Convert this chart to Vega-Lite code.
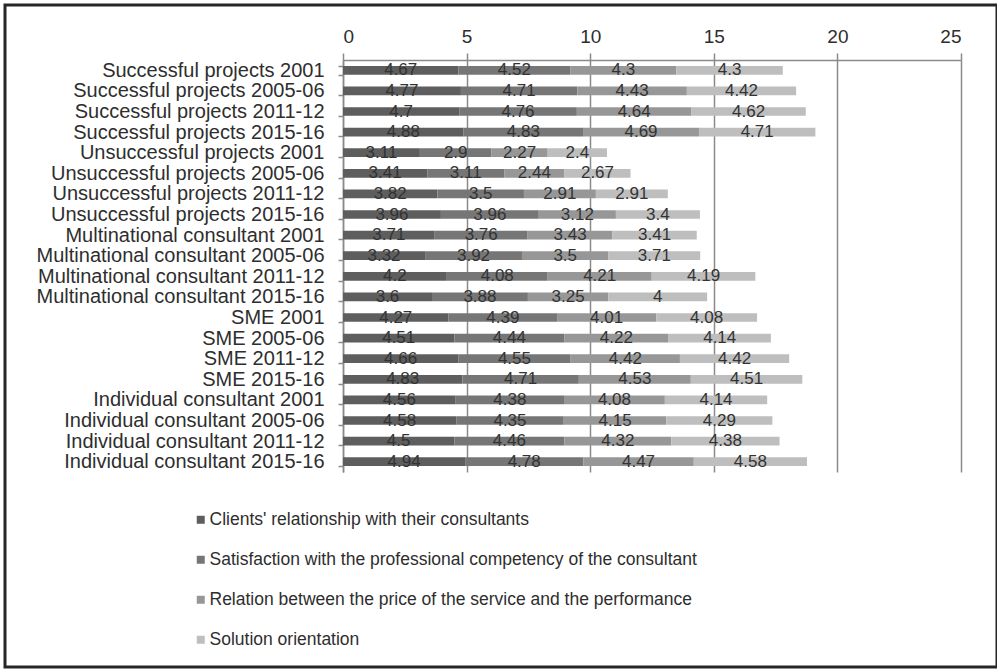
{
  "$schema": "https://vega.github.io/schema/vega-lite/v6.json",
  "width": 992,
  "height": 662,
  "autosize": {"type": "none"},
  "padding": {"left": 5, "top": 5, "right": 0, "bottom": 2},
  "background": "white",
  "config": {
    "view": {"stroke": "#262626", "strokeWidth": 3},
    "font": "Liberation Sans"
  },
  "data": {
    "values": [
      {"cat": "Successful projects 2001", "k": 1, "series": "Clients' relationship with their consultants", "v": 4.67},
      {"cat": "Successful projects 2001", "k": 2, "series": "Satisfaction with the professional competency of the consultant", "v": 4.52},
      {"cat": "Successful projects 2001", "k": 3, "series": "Relation between the price of the service and the performance", "v": 4.3},
      {"cat": "Successful projects 2001", "k": 4, "series": "Solution orientation", "v": 4.3},
      {"cat": "Successful projects 2005-06", "k": 1, "series": "Clients' relationship with their consultants", "v": 4.77},
      {"cat": "Successful projects 2005-06", "k": 2, "series": "Satisfaction with the professional competency of the consultant", "v": 4.71},
      {"cat": "Successful projects 2005-06", "k": 3, "series": "Relation between the price of the service and the performance", "v": 4.43},
      {"cat": "Successful projects 2005-06", "k": 4, "series": "Solution orientation", "v": 4.42},
      {"cat": "Successful projects 2011-12", "k": 1, "series": "Clients' relationship with their consultants", "v": 4.7},
      {"cat": "Successful projects 2011-12", "k": 2, "series": "Satisfaction with the professional competency of the consultant", "v": 4.76},
      {"cat": "Successful projects 2011-12", "k": 3, "series": "Relation between the price of the service and the performance", "v": 4.64},
      {"cat": "Successful projects 2011-12", "k": 4, "series": "Solution orientation", "v": 4.62},
      {"cat": "Successful projects 2015-16", "k": 1, "series": "Clients' relationship with their consultants", "v": 4.88},
      {"cat": "Successful projects 2015-16", "k": 2, "series": "Satisfaction with the professional competency of the consultant", "v": 4.83},
      {"cat": "Successful projects 2015-16", "k": 3, "series": "Relation between the price of the service and the performance", "v": 4.69},
      {"cat": "Successful projects 2015-16", "k": 4, "series": "Solution orientation", "v": 4.71},
      {"cat": "Unsuccessful projects 2001", "k": 1, "series": "Clients' relationship with their consultants", "v": 3.11},
      {"cat": "Unsuccessful projects 2001", "k": 2, "series": "Satisfaction with the professional competency of the consultant", "v": 2.9},
      {"cat": "Unsuccessful projects 2001", "k": 3, "series": "Relation between the price of the service and the performance", "v": 2.27},
      {"cat": "Unsuccessful projects 2001", "k": 4, "series": "Solution orientation", "v": 2.4},
      {"cat": "Unsuccessful projects 2005-06", "k": 1, "series": "Clients' relationship with their consultants", "v": 3.41},
      {"cat": "Unsuccessful projects 2005-06", "k": 2, "series": "Satisfaction with the professional competency of the consultant", "v": 3.11},
      {"cat": "Unsuccessful projects 2005-06", "k": 3, "series": "Relation between the price of the service and the performance", "v": 2.44},
      {"cat": "Unsuccessful projects 2005-06", "k": 4, "series": "Solution orientation", "v": 2.67},
      {"cat": "Unsuccessful projects 2011-12", "k": 1, "series": "Clients' relationship with their consultants", "v": 3.82},
      {"cat": "Unsuccessful projects 2011-12", "k": 2, "series": "Satisfaction with the professional competency of the consultant", "v": 3.5},
      {"cat": "Unsuccessful projects 2011-12", "k": 3, "series": "Relation between the price of the service and the performance", "v": 2.91},
      {"cat": "Unsuccessful projects 2011-12", "k": 4, "series": "Solution orientation", "v": 2.91},
      {"cat": "Unsuccessful projects 2015-16", "k": 1, "series": "Clients' relationship with their consultants", "v": 3.96},
      {"cat": "Unsuccessful projects 2015-16", "k": 2, "series": "Satisfaction with the professional competency of the consultant", "v": 3.96},
      {"cat": "Unsuccessful projects 2015-16", "k": 3, "series": "Relation between the price of the service and the performance", "v": 3.12},
      {"cat": "Unsuccessful projects 2015-16", "k": 4, "series": "Solution orientation", "v": 3.4},
      {"cat": "Multinational consultant 2001", "k": 1, "series": "Clients' relationship with their consultants", "v": 3.71},
      {"cat": "Multinational consultant 2001", "k": 2, "series": "Satisfaction with the professional competency of the consultant", "v": 3.76},
      {"cat": "Multinational consultant 2001", "k": 3, "series": "Relation between the price of the service and the performance", "v": 3.43},
      {"cat": "Multinational consultant 2001", "k": 4, "series": "Solution orientation", "v": 3.41},
      {"cat": "Multinational consultant 2005-06", "k": 1, "series": "Clients' relationship with their consultants", "v": 3.32},
      {"cat": "Multinational consultant 2005-06", "k": 2, "series": "Satisfaction with the professional competency of the consultant", "v": 3.92},
      {"cat": "Multinational consultant 2005-06", "k": 3, "series": "Relation between the price of the service and the performance", "v": 3.5},
      {"cat": "Multinational consultant 2005-06", "k": 4, "series": "Solution orientation", "v": 3.71},
      {"cat": "Multinational consultant 2011-12", "k": 1, "series": "Clients' relationship with their consultants", "v": 4.2},
      {"cat": "Multinational consultant 2011-12", "k": 2, "series": "Satisfaction with the professional competency of the consultant", "v": 4.08},
      {"cat": "Multinational consultant 2011-12", "k": 3, "series": "Relation between the price of the service and the performance", "v": 4.21},
      {"cat": "Multinational consultant 2011-12", "k": 4, "series": "Solution orientation", "v": 4.19},
      {"cat": "Multinational consultant 2015-16", "k": 1, "series": "Clients' relationship with their consultants", "v": 3.6},
      {"cat": "Multinational consultant 2015-16", "k": 2, "series": "Satisfaction with the professional competency of the consultant", "v": 3.88},
      {"cat": "Multinational consultant 2015-16", "k": 3, "series": "Relation between the price of the service and the performance", "v": 3.25},
      {"cat": "Multinational consultant 2015-16", "k": 4, "series": "Solution orientation", "v": 4},
      {"cat": "SME 2001", "k": 1, "series": "Clients' relationship with their consultants", "v": 4.27},
      {"cat": "SME 2001", "k": 2, "series": "Satisfaction with the professional competency of the consultant", "v": 4.39},
      {"cat": "SME 2001", "k": 3, "series": "Relation between the price of the service and the performance", "v": 4.01},
      {"cat": "SME 2001", "k": 4, "series": "Solution orientation", "v": 4.08},
      {"cat": "SME 2005-06", "k": 1, "series": "Clients' relationship with their consultants", "v": 4.51},
      {"cat": "SME 2005-06", "k": 2, "series": "Satisfaction with the professional competency of the consultant", "v": 4.44},
      {"cat": "SME 2005-06", "k": 3, "series": "Relation between the price of the service and the performance", "v": 4.22},
      {"cat": "SME 2005-06", "k": 4, "series": "Solution orientation", "v": 4.14},
      {"cat": "SME 2011-12", "k": 1, "series": "Clients' relationship with their consultants", "v": 4.66},
      {"cat": "SME 2011-12", "k": 2, "series": "Satisfaction with the professional competency of the consultant", "v": 4.55},
      {"cat": "SME 2011-12", "k": 3, "series": "Relation between the price of the service and the performance", "v": 4.42},
      {"cat": "SME 2011-12", "k": 4, "series": "Solution orientation", "v": 4.42},
      {"cat": "SME 2015-16", "k": 1, "series": "Clients' relationship with their consultants", "v": 4.83},
      {"cat": "SME 2015-16", "k": 2, "series": "Satisfaction with the professional competency of the consultant", "v": 4.71},
      {"cat": "SME 2015-16", "k": 3, "series": "Relation between the price of the service and the performance", "v": 4.53},
      {"cat": "SME 2015-16", "k": 4, "series": "Solution orientation", "v": 4.51},
      {"cat": "Individual consultant 2001", "k": 1, "series": "Clients' relationship with their consultants", "v": 4.56},
      {"cat": "Individual consultant 2001", "k": 2, "series": "Satisfaction with the professional competency of the consultant", "v": 4.38},
      {"cat": "Individual consultant 2001", "k": 3, "series": "Relation between the price of the service and the performance", "v": 4.08},
      {"cat": "Individual consultant 2001", "k": 4, "series": "Solution orientation", "v": 4.14},
      {"cat": "Individual consultant 2005-06", "k": 1, "series": "Clients' relationship with their consultants", "v": 4.58},
      {"cat": "Individual consultant 2005-06", "k": 2, "series": "Satisfaction with the professional competency of the consultant", "v": 4.35},
      {"cat": "Individual consultant 2005-06", "k": 3, "series": "Relation between the price of the service and the performance", "v": 4.15},
      {"cat": "Individual consultant 2005-06", "k": 4, "series": "Solution orientation", "v": 4.29},
      {"cat": "Individual consultant 2011-12", "k": 1, "series": "Clients' relationship with their consultants", "v": 4.5},
      {"cat": "Individual consultant 2011-12", "k": 2, "series": "Satisfaction with the professional competency of the consultant", "v": 4.46},
      {"cat": "Individual consultant 2011-12", "k": 3, "series": "Relation between the price of the service and the performance", "v": 4.32},
      {"cat": "Individual consultant 2011-12", "k": 4, "series": "Solution orientation", "v": 4.38},
      {"cat": "Individual consultant 2015-16", "k": 1, "series": "Clients' relationship with their consultants", "v": 4.94},
      {"cat": "Individual consultant 2015-16", "k": 2, "series": "Satisfaction with the professional competency of the consultant", "v": 4.78},
      {"cat": "Individual consultant 2015-16", "k": 3, "series": "Relation between the price of the service and the performance", "v": 4.47},
      {"cat": "Individual consultant 2015-16", "k": 4, "series": "Solution orientation", "v": 4.58}
    ]
  },
  "encoding": {
    "y": {
      "field": "cat",
      "type": "nominal",
      "sort": null,
      "scale": {"range": [55, 467], "paddingInner": 0.58, "paddingOuter": 0.29},
      "axis": {
        "title": null,
        "offset": -338,
        "tickBand": "extent",
        "tickSize": 5,
        "tickColor": "#8a8a8a",
        "tickWidth": 1.5,
        "domainColor": "#8a8a8a",
        "domainWidth": 1.5,
        "labelPadding": 14,
        "labelFontSize": 20,
        "labelColor": "#2e2e2e",
        "labelLimit": 500,
        "grid": false
      }
    },
    "x": {
      "field": "v",
      "type": "quantitative",
      "stack": "zero",
      "scale": {"domain": [0, 25], "range": [338, 956], "nice": false},
      "axis": {
        "title": null,
        "orient": "top",
        "offset": -55,
        "values": [0, 5, 10, 15, 20, 25],
        "grid": true,
        "gridColor": "#8a8a8a",
        "gridWidth": 1.5,
        "domainColor": "#8a8a8a",
        "domainWidth": 1.5,
        "tickColor": "#8a8a8a",
        "tickWidth": 1.5,
        "tickSize": 7,
        "labelPadding": 7,
        "labelFontSize": 19,
        "labelColor": "#2e2e2e"
      }
    },
    "order": {"field": "k", "type": "quantitative", "sort": "ascending"}
  },
  "layer": [
    {
      "mark": {"type": "bar"},
      "encoding": {
        "color": {
          "field": "series",
          "type": "nominal",
          "sort": [
            "Clients' relationship with their consultants",
            "Satisfaction with the professional competency of the consultant",
            "Relation between the price of the service and the performance",
            "Solution orientation"
          ],
          "scale": {
            "domain": [
              "Clients' relationship with their consultants",
              "Satisfaction with the professional competency of the consultant",
              "Relation between the price of the service and the performance",
              "Solution orientation"
            ],
            "range": ["#5e5e5e", "#767676", "#979797", "#bebebe"]
          },
          "legend": {
            "title": null,
            "orient": "none",
            "legendX": 187,
            "legendY": 506,
            "symbolType": "square",
            "symbolSize": 64,
            "symbolStrokeWidth": 0,
            "labelFontSize": 17.5,
            "labelColor": "#2e2e2e",
            "labelLimit": 800,
            "labelOffset": 0,
            "rowPadding": 21
          }
        }
      }
    },
    {
      "mark": {"type": "text", "fontSize": 17, "baseline": "middle", "color": "#333333"},
      "encoding": {
        "x": {"field": "v", "type": "quantitative", "stack": "zero", "bandPosition": 0.5},
        "text": {"field": "v", "type": "quantitative"},
        "detail": {"field": "series", "type": "nominal"}
      }
    }
  ]
}
